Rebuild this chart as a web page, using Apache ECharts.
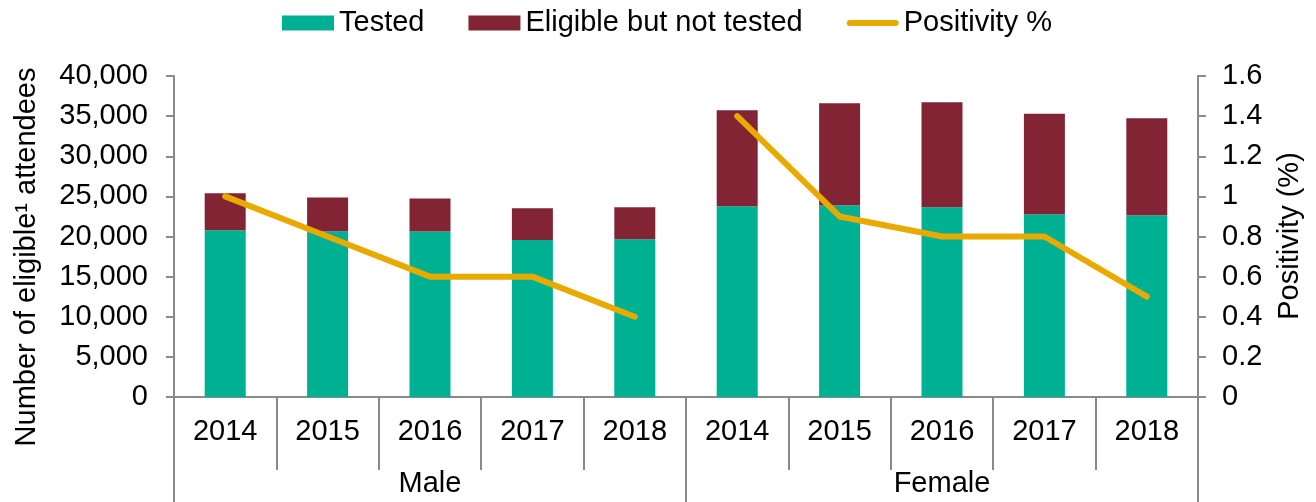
<!DOCTYPE html>
<html>
<head>
<meta charset="utf-8">
<title>Eligible attendees tested and positivity, 2014–2018</title>
<script src="https://cdn.jsdelivr.net/npm/echarts@6/dist/echarts.min.js"></script>
<style>
  html, body { margin: 0; padding: 0; background: #fff; }
  #chart { width: 1316px; height: 502px; }
</style>
</head>
<body>
<div id="chart"></div>
<script>
// Categories: five years for each sex
const years = ['2014', '2015', '2016', '2017', '2018', '2014', '2015', '2016', '2017', '2018'];
const groups = ['Male', 'Female'];

// Eligible attendees, split into tested and not tested (stacked)
const tested = [20770, 20650, 20610, 19560, 19650, 23760, 23890, 23640, 22770, 22640];
const notTested = [4610, 4200, 4110, 3950, 3990, 11970, 12710, 13080, 12540, 12090];

// Positivity (%), right axis
const positivityMale = [1.0, 0.8, 0.6, 0.6, 0.4];
const positivityFemale = [1.4, 0.9, 0.8, 0.8, 0.5];

// Axis ranges
const leftTicks = { min: 0, max: 40000, interval: 5000 };
const rightTicks = { min: 0, max: 1.6, interval: 0.2 };

const FONT = '"Liberation Sans", Arial, sans-serif';
const FS = 29;
const GREY = '#8a8a8a';
const TEXT = '#000';
const GOLD = '#e9aa00';

// Each sex gets its own line so the two are not joined across the divider
const gap = ['-', '-', '-', '-', '-'];
const lineMale = positivityMale.concat(gap);
const lineFemale = gap.concat(positivityFemale);

const chart = echarts.init(document.getElementById('chart'), null, { renderer: 'canvas' });

const lineStyle = { color: GOLD, width: 6, cap: 'round', join: 'round' };

chart.setOption({
  animation: false,
  textStyle: { fontFamily: FONT },
  legend: {
    left: 277,
    top: 3,
    itemWidth: 52,
    itemHeight: 15,
    itemGap: 44,
    textStyle: { fontFamily: FONT, fontSize: FS, color: TEXT, lineHeight: 30 },
    data: [
      { name: 'Tested', icon: 'rect' },
      { name: 'Eligible but not tested', icon: 'rect' },
      {
        name: 'Positivity %',
        icon: 'path://M3,0L49,0A3,3,0,0,1,49,6L3,6A3,3,0,0,1,3,0Z',
        itemStyle: { color: GOLD, borderWidth: 0 }
      }
    ]
  },
  grid: { left: 174, right: 118, top: 76, bottom: 105, containLabel: false },
  xAxis: [
    {
      type: 'category',
      data: years,
      position: 'bottom',
      boundaryGap: true,
      axisLine: { show: true, lineStyle: { color: GREY, width: 2 } },
      axisTick: { show: true, interval: 0, length: 73, lineStyle: { color: GREY, width: 2 } },
      axisLabel: {
        interval: 0, margin: 21, fontSize: FS, lineHeight: 28,
        color: TEXT, fontFamily: FONT
      }
    },
    {
      type: 'category',
      data: groups,
      position: 'bottom',
      boundaryGap: true,
      axisLine: { show: false },
      axisTick: { show: true, interval: 0, length: 106, lineStyle: { color: GREY, width: 2 } },
      axisLabel: {
        interval: 0, margin: 73, fontSize: FS, lineHeight: 28,
        color: TEXT, fontFamily: FONT
      }
    }
  ],
  yAxis: [
    {
      type: 'value',
      min: leftTicks.min,
      max: leftTicks.max,
      interval: leftTicks.interval,
      position: 'left',
      splitLine: { show: false },
      axisLine: { show: true, lineStyle: { color: GREY, width: 2 } },
      axisTick: { show: true, length: 8, lineStyle: { color: GREY, width: 2 } },
      axisLabel: {
        margin: 26, fontSize: FS, color: TEXT, fontFamily: FONT,
        formatter: v => v.toLocaleString('en-US')
      }
    },
    {
      type: 'value',
      min: rightTicks.min,
      max: rightTicks.max,
      interval: rightTicks.interval,
      position: 'right',
      splitLine: { show: false },
      axisLine: { show: true, lineStyle: { color: GREY, width: 2 } },
      axisTick: { show: true, length: 8, lineStyle: { color: GREY, width: 2 } },
      axisLabel: {
        margin: 24, fontSize: FS, color: TEXT, fontFamily: FONT,
        formatter: v => String(Math.round(v * 10) / 10)
      }
    }
  ],
  graphic: [
    {
      type: 'text',
      x: 27, y: 257, rotation: Math.PI / 2,
      style: {
        text: 'Number of eligible¹ attendees',
        font: FS + 'px ' + FONT, fill: TEXT,
        textAlign: 'center', textVerticalAlign: 'middle'
      }
    },
    {
      type: 'text',
      x: 1290, y: 236, rotation: Math.PI / 2,
      style: {
        text: 'Positivity (%)',
        font: FS + 'px ' + FONT, fill: TEXT,
        textAlign: 'center', textVerticalAlign: 'middle'
      }
    }
  ],
  series: [
    {
      name: 'Tested',
      type: 'bar',
      stack: 'eligible',
      barWidth: 41,
      xAxisIndex: 0, yAxisIndex: 0,
      itemStyle: { color: '#00b092' },
      data: tested
    },
    {
      name: 'Eligible but not tested',
      type: 'bar',
      stack: 'eligible',
      barWidth: 41,
      xAxisIndex: 0, yAxisIndex: 0,
      itemStyle: { color: '#822434' },
      data: notTested
    },
    {
      name: 'Positivity %',
      type: 'line',
      xAxisIndex: 0, yAxisIndex: 1,
      symbol: 'none',
      connectNulls: false,
      itemStyle: { color: GOLD },
      lineStyle: lineStyle,
      data: lineMale,
      z: 5
    },
    {
      name: 'Positivity %',
      type: 'line',
      xAxisIndex: 0, yAxisIndex: 1,
      symbol: 'none',
      connectNulls: false,
      itemStyle: { color: GOLD },
      lineStyle: lineStyle,
      data: lineFemale,
      z: 5
    }
  ]
});
</script>
</body>
</html>
